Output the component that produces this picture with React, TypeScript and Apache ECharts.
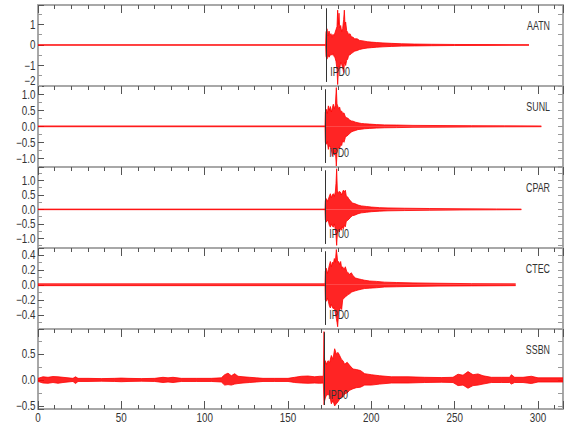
import React, { useEffect, useRef } from "react";
import * as echarts from "echarts";

// ---------- data ----------
const stations = ["AATN", "SUNL", "CPAR", "CTEC", "SSBN"];
const pickLabels = ["IPD0", "IPD0", "IPU0", "IPD0", "IPD0"];
const pickTimes = [172.9, 172.4, 172.4, 172.4, 171.8];
const yMin = [-2, -1.27, -1.33, -0.59, -0.56];
const yMax = [1.95, 1.26, 1.46, 0.49, 0.98];
const yTickLabels = [
  [-2, -1, 0, 1],
  [-1, -0.5, 0, 0.5, 1],
  [-1, -0.5, 0, 0.5, 1],
  [-0.4, -0.2, 0, 0.2, 0.4],
  [-0.5, 0, 0.5],
];
const yDecimals = [0, 1, 1, 1, 1];
const xTickLabels = [0, 50, 100, 150, 200, 250, 300];
const xMin = 0;
const xMax = 315;

// envelope (max / min per time bin)
const aatnTime = [0, 172.6, 172.8, 173.4, 174.0, 174.6, 175.2, 175.8, 176.4, 177.0, 177.6, 178.2, 178.8, 179.4, 179.8, 180.2, 180.6, 181.0, 181.6, 182.2, 182.8, 183.4, 183.8, 184.2, 184.6, 185.2, 185.8, 186.4, 187.2, 188.0, 189, 190, 191.5, 193, 195, 197.5, 200, 203, 207, 212, 218, 226, 236, 250, 270, 294.6];
const aatnMax = [0.01, 0.01, 0.62, 0.79, 0.45, 0.68, 0.5, 0.55, 0.38, 0.52, 0.45, 0.6, 0.75, 0.9, 1.7, 1.0, 1.55, 0.85, 0.95, 0.65, 0.8, 1.25, 1.7, 1.0, 1.12, 0.7, 0.62, 0.5, 0.55, 0.4, 0.38, 0.3, 0.3, 0.22, 0.2, 0.16, 0.14, 0.12, 0.1, 0.08, 0.06, 0.045, 0.035, 0.025, 0.02, 0.015];
const aatnMin = [-0.01, -0.01, -0.55, -0.69, -0.48, -0.6, -0.52, -0.45, -0.5, -0.4, -0.55, -0.62, -0.8, -1.2, -1.93, -1.3, -1.05, -1.18, -0.85, -0.95, -1.1, -1.35, -0.95, -0.85, -1.0, -0.75, -0.69, -0.5, -0.48, -0.42, -0.36, -0.3, -0.27, -0.22, -0.18, -0.15, -0.13, -0.11, -0.09, -0.07, -0.055, -0.045, -0.035, -0.025, -0.02, -0.015];

const sunlTime = [0, 172.2, 172.4, 173.0, 173.6, 174.2, 174.8, 175.4, 176.0, 176.6, 177.2, 177.8, 178.4, 179.0, 179.4, 179.8, 180.4, 181.0, 181.6, 182.2, 182.8, 183.6, 184.4, 185.2, 186.0, 187.0, 188.0, 189.0, 190.5, 192.0, 194, 196, 199, 203, 208, 215, 225, 240, 260, 280, 302];
const sunlMax = [0.012, 0.012, 0.45, 0.53, 0.4, 0.64, 0.5, 0.62, 0.45, 0.58, 0.69, 0.55, 0.66, 1.21, 0.7, 0.64, 0.55, 0.6, 0.45, 0.48, 0.4, 0.42, 0.3, 0.27, 0.25, 0.2, 0.17, 0.16, 0.13, 0.11, 0.09, 0.08, 0.07, 0.055, 0.045, 0.04, 0.03, 0.025, 0.02, 0.015, 0.012];
const sunlMin = [-0.012, -0.012, -0.5, -0.56, -0.48, -0.72, -0.6, -0.65, -0.72, -0.93, -0.8, -0.9, -0.75, -1.24, -0.85, -0.72, -0.65, -0.7, -0.56, -0.6, -0.45, -0.5, -0.35, -0.3, -0.28, -0.22, -0.18, -0.15, -0.13, -0.1, -0.09, -0.075, -0.065, -0.055, -0.045, -0.04, -0.03, -0.025, -0.02, -0.015, -0.012];

const cparTime = [0, 172.2, 172.4, 173.0, 173.6, 174.2, 174.8, 175.4, 176.0, 176.6, 177.2, 177.8, 178.4, 178.8, 179.2, 179.6, 180.2, 180.8, 181.4, 182.0, 182.6, 183.2, 183.8, 184.4, 185.0, 185.8, 186.6, 187.5, 188.5, 190.0, 192, 194, 197, 200, 205, 210, 220, 235, 255, 275, 290];
const cparMax = [0.01, 0.01, 0.3, 0.37, 0.28, 0.35, 0.45, 0.54, 0.4, 0.5, 0.54, 0.45, 0.6, 0.9, 1.4, 0.66, 0.55, 0.62, 0.6, 0.5, 0.58, 0.66, 0.6, 0.66, 0.45, 0.43, 0.35, 0.3, 0.22, 0.2, 0.15, 0.12, 0.1, 0.08, 0.06, 0.05, 0.04, 0.03, 0.02, 0.015, 0.01];
const cparMin = [-0.01, -0.01, -0.35, -0.44, -0.38, -0.4, -0.55, -0.61, -0.5, -0.58, -0.61, -0.5, -0.7, -0.9, -1.24, -0.84, -0.7, -0.78, -0.65, -0.72, -0.6, -0.67, -0.55, -0.6, -0.4, -0.38, -0.33, -0.28, -0.22, -0.2, -0.15, -0.12, -0.1, -0.08, -0.06, -0.05, -0.04, -0.03, -0.02, -0.015, -0.01];

const ctecTime = [0, 172.2, 172.4, 173.0, 173.6, 174.2, 174.8, 175.4, 176.0, 176.6, 177.2, 177.8, 178.4, 179.0, 179.4, 179.8, 180.4, 181.0, 181.6, 182.2, 182.8, 183.6, 184.4, 185.2, 186.0, 187.0, 188.0, 189.0, 190.5, 192.0, 194, 196, 199, 203, 208, 215, 225, 240, 260, 286.6];
const ctecMax = [0.012, 0.012, 0.18, 0.22, 0.15, 0.2, 0.26, 0.31, 0.24, 0.3, 0.28, 0.35, 0.3, 0.47, 0.4, 0.3, 0.31, 0.27, 0.31, 0.22, 0.24, 0.2, 0.24, 0.18, 0.16, 0.14, 0.16, 0.12, 0.09, 0.08, 0.07, 0.06, 0.05, 0.045, 0.035, 0.03, 0.025, 0.02, 0.015, 0.012];
const ctecMin = [-0.012, -0.012, -0.2, -0.22, -0.18, -0.22, -0.28, -0.31, -0.26, -0.3, -0.32, -0.3, -0.38, -0.45, -0.5, -0.56, -0.36, -0.34, -0.3, -0.33, -0.2, -0.18, -0.16, -0.15, -0.13, -0.12, -0.1, -0.09, -0.08, -0.07, -0.06, -0.05, -0.045, -0.04, -0.03, -0.027, -0.022, -0.018, -0.015, -0.012];

const ssbnTime = [0, 3, 6, 9, 12, 15, 18, 21, 22.5, 24, 30, 38, 46, 50, 54, 62, 70, 75, 78, 81, 86, 95, 104, 110, 112, 114, 116, 118, 120, 123, 127, 131, 135, 142, 150, 154, 158, 162, 166, 169, 171.2, 171.6, 172.0, 172.4, 173, 174, 175, 176, 177, 178, 179, 180, 181, 182, 183, 184, 185.5, 187, 189, 191, 193.5, 196, 200, 205, 212, 222, 232, 242, 249, 252, 255, 258, 261, 264, 267, 272, 278, 283, 284, 286, 291, 296, 300, 306, 315];
const ssbnMax = [0.03, 0.06, 0.05, 0.065, 0.06, 0.05, 0.04, 0.03, 0.06, 0.03, 0.03, 0.025, 0.03, 0.035, 0.03, 0.025, 0.03, 0.05, 0.04, 0.05, 0.03, 0.03, 0.03, 0.04, 0.1, 0.13, 0.08, 0.12, 0.07, 0.06, 0.05, 0.04, 0.03, 0.03, 0.03, 0.05, 0.07, 0.075, 0.06, 0.07, 0.07, 0.93, 0.3, 0.37, 0.3, 0.37, 0.34, 0.47, 0.4, 0.6, 0.5, 0.53, 0.47, 0.4, 0.37, 0.3, 0.34, 0.28, 0.21, 0.2, 0.18, 0.12, 0.1, 0.08, 0.06, 0.06, 0.05, 0.045, 0.05, 0.11, 0.09, 0.16, 0.1, 0.115, 0.08, 0.05, 0.05, 0.05, 0.1, 0.05, 0.05, 0.07, 0.04, 0.04, 0.04];
const ssbnMin = [-0.03, -0.06, -0.065, -0.05, -0.065, -0.05, -0.04, -0.03, -0.07, -0.03, -0.03, -0.025, -0.03, -0.035, -0.03, -0.025, -0.03, -0.05, -0.04, -0.05, -0.03, -0.03, -0.03, -0.04, -0.1, -0.09, -0.1, -0.08, -0.07, -0.06, -0.05, -0.04, -0.03, -0.03, -0.03, -0.05, -0.06, -0.065, -0.06, -0.065, -0.06, -0.48, -0.4, -0.35, -0.3, -0.28, -0.3, -0.46, -0.4, -0.5, -0.46, -0.42, -0.37, -0.33, -0.33, -0.27, -0.25, -0.2, -0.17, -0.15, -0.14, -0.1, -0.1, -0.08, -0.06, -0.06, -0.05, -0.045, -0.05, -0.11, -0.1, -0.16, -0.11, -0.1, -0.08, -0.05, -0.05, -0.05, -0.08, -0.05, -0.05, -0.07, -0.04, -0.04, -0.04];

const traceTimes = [aatnTime, sunlTime, cparTime, ctecTime, ssbnTime];
const traceMax = [aatnMax, sunlMax, cparMax, ctecMax, ssbnMax];
const traceMin = [aatnMin, sunlMin, cparMin, ctecMin, ssbnMin];

// ---------- styling ----------
const FONT = "'Liberation Sans', Arial, sans-serif";
const FRAME = "#a8a8a8";
const TICK = "#555555";
const TEXT = "#333333";
const RED = "#ff0000";
const GRID_TOP = 5;
const GRID_H = 81;
const GRID_LEFT = 38;
const GRID_RIGHT = 17;
const W = 580;

function zip(t: number[], v: number[]) {
  const out: number[][] = [];
  const n = Math.min(t.length, v.length);
  for (let i = 0; i < n; i++) out.push([t[i], v[i]]);
  return out;
}

function buildOption() {
  const grids: any[] = [];
  const xAxes: any[] = [];
  const yAxes: any[] = [];
  const series: any[] = [];

  stations.forEach((name, i) => {
    const top = GRID_TOP + i * GRID_H;
    const last = i === stations.length - 1;
    grids.push({ left: GRID_LEFT, right: GRID_RIGHT, top, height: last ? 80 : 81 });

    const xBase = {
      type: "value",
      gridIndex: i,
      min: xMin,
      max: xMax,
      interval: 50,
      splitLine: { show: false },
      axisLabel: { show: false },
      axisLine: { show: true, onZero: false, lineStyle: { color: FRAME, width: 2 } },
    };
    xAxes.push({
      ...xBase,
      position: "bottom",
      axisTick: { show: last, inside: true, length: 8, lineStyle: { color: TICK } },
      minorTick: { show: last, splitNumber: 5, length: 4, lineStyle: { color: TICK } },
    });
    xAxes.push({
      ...xBase,
      position: "top",
      axisTick: { show: true, inside: true, length: 8, lineStyle: { color: TICK } },
      minorTick: { show: true, splitNumber: 5, length: 4, lineStyle: { color: TICK } },
    });

    const splitNumbers = [4, 5, 5, 5, 3];
    const yBase = {
      type: "value",
      gridIndex: i,
      min: yMin[i],
      max: yMax[i],
      splitNumber: splitNumbers[i],
      splitLine: { show: false },
      axisLabel: { show: false },
      axisLine: { show: true, onZero: false, lineStyle: { color: FRAME, width: 2 } },
    };
    yAxes.push({
      ...yBase,
      position: "left",
      axisTick: { show: true, inside: true, length: 6, lineStyle: { color: TICK } },
      minorTick: { show: true, splitNumber: 2, length: 4, lineStyle: { color: "#999" } },
    });
    yAxes.push({
      ...yBase,
      position: "right",
      axisTick: { show: true, inside: true, length: 5, lineStyle: { color: "#999" } },
      minorTick: { show: true, splitNumber: 2, length: 5, lineStyle: { color: "#999" } },
    });

    const span = yMax[i] - yMin[i];
    const common = {
      type: "line",
      xAxisIndex: 2 * i,
      yAxisIndex: 2 * i,
      showSymbol: false,
      symbol: "none",
      silent: true,
      lineStyle: { color: RED, width: 0.8 },
      areaStyle: { color: RED, opacity: 0.86 },
    };
    series.push({ ...common, name: name + " max", data: zip(traceTimes[i], traceMax[i]) });
    series.push({
      ...common,
      name: name + " min",
      data: zip(traceTimes[i], traceMin[i]),
      markLine: {
        silent: true,
        symbol: "none",
        label: { show: false },
        lineStyle: { color: "#333", width: 1, type: "solid" },
        data: [
          [
            { coord: [pickTimes[i], yMin[i] + span * 0.05] },
            { coord: [pickTimes[i], yMax[i] - span * 0.04] },
          ],
        ],
      },
    });
  });

  return {
    animation: false,
    backgroundColor: "#ffffff",
    grid: grids,
    xAxis: xAxes,
    yAxis: yAxes,
    series,
  };
}

function textEl(text: string, x: number, y: number, align: string, scaleX: number) {
  return {
    type: "text",
    x,
    y,
    scaleX,
    z: 100,
    silent: true,
    style: {
      text,
      fill: TEXT,
      fontSize: 12,
      fontFamily: FONT,
      align,
      verticalAlign: "middle",
      textAlign: align,
      textVerticalAlign: "middle",
    },
  };
}

function buildLabels(chart: any) {
  const els: any[] = [];
  stations.forEach((name, i) => {
    const top = GRID_TOP + i * GRID_H;
    const bottom = top + (i === stations.length - 1 ? 80 : 81);
    // y tick labels
    yTickLabels[i].forEach((v) => {
      let py = chart.convertToPixel({ yAxisIndex: 2 * i }, v);
      if (py > bottom - 5 && i < stations.length - 1) py = bottom - 5;
      const txt = v.toFixed(yDecimals[i]).replace("-", "\u2212");
      els.push(textEl(txt, GRID_LEFT - 2.5, py, "right", 0.82));
    });
    // station name
    els.push(textEl(name, W - 30, top + 20, "right", 0.74));
    // pick label
    const span = yMax[i] - yMin[i];
    const p = chart.convertToPixel({ xAxisIndex: 2 * i, yAxisIndex: 2 * i }, [pickTimes[i], yMin[i] + span * 0.18]);
    els.push(textEl(pickLabels[i], p[0] + 4, p[1], "left", 0.74));
  });
  // x tick labels (bottom panel)
  const last = stations.length - 1;
  const bottom = GRID_TOP + last * GRID_H + 80;
  xTickLabels.forEach((v) => {
    const px = chart.convertToPixel({ xAxisIndex: 2 * last }, v);
    els.push(textEl(String(v), px, bottom + 9, "center", 0.82));
  });
  return els;
}

export default function App() {
  const ref = useRef<HTMLDivElement>(null);
  useEffect(() => {
    if (!ref.current) return;
    const chart = echarts.init(ref.current, undefined, { renderer: "svg" });
    chart.setOption(buildOption() as any);
    chart.setOption({ graphic: { elements: buildLabels(chart) } } as any);
    return () => chart.dispose();
  }, []);
  return (
    <div
      ref={ref}
      style={{ position: "fixed", left: 0, top: 0, width: 580, height: 440, background: "#fff" }}
    />
  );
}
